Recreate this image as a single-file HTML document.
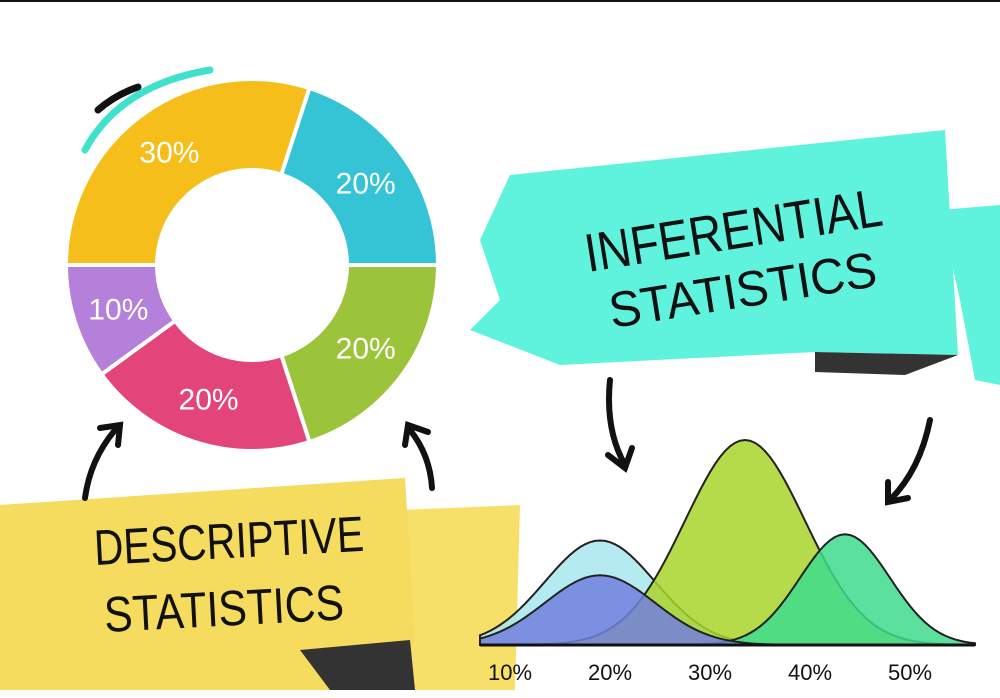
<!DOCTYPE html>
<html><head><meta charset="utf-8"><style>
html,body{margin:0;padding:0;background:#fff;}
svg{display:block;}
text{font-family:"Liberation Sans",sans-serif;}
</style></head><body>
<svg id="chart" width="1000" height="698" viewBox="0 0 1000 698">
<rect x="0" y="0" width="1000" height="698" fill="#fff"/>
<rect x="0" y="0" width="1000" height="2" fill="#111"/>
<g>
<polygon points="940,210 1000,205 1000,385 975,380 960,300" fill="#5FF3DE"/>
<polygon points="510,175 945,130 958,355 815,352 560,365 470,330 500,300 480,240" fill="#5FF3DE"/>
<polygon points="815,352 958,355 905,375 815,372" fill="#333"/>
<text x="588" y="272" font-size="54" textLength="300" lengthAdjust="spacingAndGlyphs" fill="#111" transform="rotate(-9 588 272)">INFERENTIAL</text>
<text x="612" y="328" font-size="50" textLength="270" lengthAdjust="spacingAndGlyphs" fill="#111" transform="rotate(-9 612 328)">STATISTICS</text>
</g>
<g>
<polygon points="400,510 520,505 515,690 400,690" fill="#F7E06A"/>
<polygon points="0,505 405,478 415,640 395,690 0,690" fill="#F5DB5E"/>
<polygon points="300,650 410,640 415,690 330,690" fill="#333"/>
<text x="95" y="565" font-size="50" textLength="270" lengthAdjust="spacingAndGlyphs" fill="#111" transform="rotate(-3 95 565)">DESCRIPTIVE</text>
<text x="105" y="632" font-size="50" textLength="240" lengthAdjust="spacingAndGlyphs" fill="#111" transform="rotate(-3 105 632)">STATISTICS</text>
</g>
<g id="donut"></g>
<g id="bells"></g>
<g fill="none" stroke="#111" stroke-width="6" stroke-linecap="round">
<path d="M85,498 Q90,460 115,430"/><path d="M100,428 L120,425 L118,445"/>
<path d="M432,488 Q430,455 410,430"/><path d="M405,445 L408,425 L428,432"/>
<path d="M610,380 Q605,430 625,465"/><path d="M608,455 L625,468 L632,448"/>
<path d="M930,420 Q920,470 890,500"/><path d="M888,482 L888,502 L908,498"/>
</g>
<path d="M85,150 Q120,85 210,70" stroke="#3FE0CC" stroke-width="7" fill="none" stroke-linecap="round"/>
<path d="M98,110 Q115,95 138,87" stroke="#111" stroke-width="7" fill="none" stroke-linecap="round"/>
</svg>
<script>
const NS="http://www.w3.org/2000/svg";
const sliceLabels=["30%","20%","20%","20%","10%"];
const sliceValues=[30,20,20,20,10];
const sliceColors=["#F5BE1A","#35C3D6","#9CC43A","#E3457A","#B580D9"];
const donut=document.getElementById("donut");
const cx=252,cy=265,R=186,r=95,startDeg=270;
function pt(deg,rad){const a=(deg-90)*Math.PI/180;return[cx+rad*Math.cos(a),cy+rad*Math.sin(a)];}
const total=sliceValues.reduce((a,b)=>a+b,0);
let acc=startDeg;
sliceValues.forEach((v,i)=>{
  const sweep=v/total*360,a0=acc,a1=acc+sweep;acc=a1;
  const p0=pt(a0,R),p1=pt(a1,R),p2=pt(a1,r),p3=pt(a0,r);const lg=sweep>180?1:0;
  const p=document.createElementNS(NS,"path");
  p.setAttribute("d",`M${p0}A${R},${R} 0 ${lg} 1 ${p1}L${p2}A${r},${r} 0 ${lg} 0 ${p3}Z`);
  p.setAttribute("fill",sliceColors[i]);p.setAttribute("stroke","#fff");p.setAttribute("stroke-width","4");
  
  
  donut.appendChild(p);
  const m=pt((a0+a1)/2,(R+r)/2);
  const t=document.createElementNS(NS,"text");
  t.setAttribute("x",m[0]);t.setAttribute("y",m[1]+11);t.setAttribute("text-anchor","middle");
  t.setAttribute("font-size","30");t.setAttribute("fill","#fff");t.textContent=sliceLabels[i];
  
  
  donut.appendChild(t);
});
const tickLabels=["10%","20%","30%","40%","50%"];
const tickValues=[10,20,30,40,50];
const curveMeans=[19,19,33.5,43.5];
const curvePeaks=[0.51,0.34,1.0,0.54];
const curveWidths=[5.5,5.5,6,4.5];
const curveColors=["#A8E6EF","#7280DE","#A8D52A","#3EDC8C"];
const bells=document.getElementById("bells");
const baseY=645,plotH=205;
const xs=v=>510+(v-10)*10;
const ys=v=>baseY-v*plotH;
const order=[0,2,3,1];
order.forEach(i=>{
  let d=`M${xs(7)},${baseY}`;
  for(let v=7;v<=56.5;v+=0.5){const y=curvePeaks[i]*Math.exp(-Math.pow(v-curveMeans[i],2)/(2*curveWidths[i]*curveWidths[i]));d+=`L${xs(v)},${ys(y)}`;}
  d+=`L${xs(56.5)},${baseY}Z`;
  const p=document.createElementNS(NS,"path");
  p.setAttribute("d",d);p.setAttribute("fill",curveColors[i]);p.setAttribute("fill-opacity","0.85");
  p.setAttribute("stroke","#222");p.setAttribute("stroke-width","2");
  
  
  bells.appendChild(p);
});
const ax=document.createElementNS(NS,"line");
ax.setAttribute("x1",480);ax.setAttribute("x2",975);ax.setAttribute("y1",baseY);ax.setAttribute("y2",baseY);
ax.setAttribute("stroke","#111");ax.setAttribute("stroke-width","3");


bells.appendChild(ax);
tickLabels.forEach((l,i)=>{
  const t=document.createElementNS(NS,"text");
  t.setAttribute("x",xs(tickValues[i]));t.setAttribute("y",680);t.setAttribute("text-anchor","middle");
  t.setAttribute("font-size","22");t.setAttribute("fill","#111");t.textContent=l;
  
  
  bells.appendChild(t);
});
</script>
</body></html>
